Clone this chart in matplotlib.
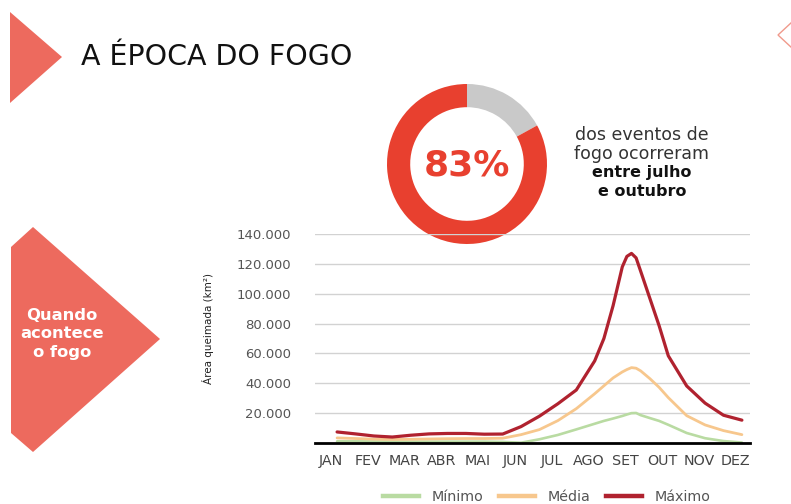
import matplotlib
matplotlib.use("Agg")
import matplotlib.pyplot as plt
from matplotlib.patches import Polygon
from matplotlib.lines import Line2D
from matplotlib.ticker import FuncFormatter

# ---------------- data ----------------
month_labels = ["JAN", "FEV", "MAR", "ABR", "MAI", "JUN", "JUL", "AGO", "SET", "OUT", "NOV", "DEZ"]
# position along the year (0 = JAN, 11 = DEZ) at which values were read
x_pos = [0, 0.5, 1, 1.5, 2, 2.5, 3, 3.5, 4, 4.5, 5, 5.5, 6, 6.5, 7, 7.25, 7.5,
         7.75, 7.875, 8, 8.125, 8.25, 8.5, 8.75, 9, 9.5, 10, 10.5, 11]
maximo = [7400, 6100, 4700, 4000, 5200, 6100, 6400, 6400, 5900, 6000, 11000, 18000,
          26300, 35500, 55000, 70000, 92000, 118000, 125000, 127000, 124000, 115000,
          96800, 78600, 58400, 38200, 26700, 18600, 15300]
media = [3400, 3000, 2600, 2400, 2500, 2700, 2900, 3000, 3000, 3200, 5600, 9000,
         15000, 23000, 33000, 38300, 43600, 47600, 49200, 50500, 50100, 48300,
         43100, 37300, 30400, 18300, 12100, 8300, 5600]
minimo = [1100, 1100, 1000, 900, 900, 900, 900, 900, 900, 700, 200, 2500,
          5400, 9100, 12900, 14800, 16400, 18100, 19100, 20000, 20100, 18650,
          16700, 14800, 12200, 6700, 3200, 1300, 300]
y_ticks = [20000, 40000, 60000, 80000, 100000, 120000, 140000]
donut_values = [17, 83]          # outros meses, julho-outubro
donut_label = "83%"
series_names = ["Mínimo", "Média", "Máximo"]

# ---------------- style ----------------
W, H = 791, 504
RED_SHAPE = "#ed6a5e"
DONUT_RED = "#e8402f"
DONUT_GRAY = "#c9c9c9"
C_MAX, C_MED, C_MIN = "#b0222f", "#f7c78d", "#b9dba2"

plt.rcParams["font.family"] = ["DejaVu Sans"]
fig = plt.figure(figsize=(W / 100, H / 100), dpi=100)
fig.patch.set_facecolor("white")

# background layer in pixel coordinates
bg = fig.add_axes([0, 0, 1, 1])
bg.set_xlim(0, W)
bg.set_ylim(H, 0)
bg.axis("off")

bg.add_patch(Polygon([(10, 12), (62, 57), (10, 103)], closed=True,
                     facecolor=RED_SHAPE, lw=0))
bg.add_patch(Polygon([(11, 247), (33, 227), (160, 339), (33, 452), (11, 433)],
                     closed=True, facecolor=RED_SHAPE, lw=0))
bg.add_patch(Polygon([(792, 22), (778, 35), (792, 48)], closed=False,
                     facecolor="none", edgecolor="#f09a8c", lw=1))

bg.text(81, 65, "A ÉPOCA DO FOGO", fontsize=20.5, color="#111111",
        ha="left", va="baseline")

bg.text(62, 334, "Quando\nacontece\no fogo", fontsize=11.8, fontweight="bold",
        color="white", ha="center", va="center", linespacing=1.25)

bg.text(208, 328, "Área queimada (km²)", fontsize=7.5, color="#222222",
        rotation=90, ha="center", va="center")

txt_lines = [("dos eventos de", "normal", "#333333", 135, 12.5),
             ("fogo ocorreram", "normal", "#333333", 154, 12.5),
             ("entre julho", "bold", "#111111", 173, 11.5),
             ("e outubro", "bold", "#111111", 192, 11.5)]
for s, w, c, y, fs in txt_lines:
    bg.text(642, y, s, fontsize=fs, fontweight=w, color=c, ha="center", va="center")

# donut
cx, cy, r = 467, 164, 80
dax = fig.add_axes([(cx - r) / W, (H - cy - r) / H, 2 * r / W, 2 * r / H])
dax.pie(donut_values, colors=[DONUT_GRAY, DONUT_RED], startangle=90,
        counterclock=False, radius=1, wedgeprops=dict(width=0.29, linewidth=0))
dax.set_xlim(-1, 1)
dax.set_ylim(-1, 1)
dax.set_aspect("equal")
dax.axis("off")
dax.text(0, -0.02, donut_label, fontsize=26, fontweight="bold", color=DONUT_RED,
         ha="center", va="center")

# line chart
ax = fig.add_axes([315 / W, 61 / H, 435 / W, 209 / H])
ax.set_facecolor("none")
ax.plot(x_pos, minimo, color=C_MIN, lw=1.9, solid_joinstyle="round", solid_capstyle="round", zorder=3)
ax.plot(x_pos, media, color=C_MED, lw=2.0, solid_joinstyle="round", solid_capstyle="round", zorder=3)
ax.plot(x_pos, maximo, color=C_MAX, lw=2.3, solid_joinstyle="round", solid_capstyle="round", zorder=4)

ax.set_xlim(-0.6, 11.22)
ax.set_ylim(0, 140000)
ax.set_yticks(y_ticks)
ax.yaxis.set_major_formatter(FuncFormatter(lambda v, p: f"{int(v):,}".replace(",", ".")))
ax.set_xticks([i - 0.17 for i in range(12)])
ax.set_xticklabels(month_labels)
ax.tick_params(axis="y", length=0, pad=17, labelsize=9.5, labelcolor="#555555")
ax.tick_params(axis="x", length=0, pad=8, labelsize=10.3, labelcolor="#444444")
ax.yaxis.grid(True, color="#d2d2d2", lw=1)
ax.set_axisbelow(True)
for sp in ["top", "right", "left"]:
    ax.spines[sp].set_visible(False)
ax.spines["bottom"].set_color("black")
ax.spines["bottom"].set_linewidth(2)
ax.spines["bottom"].set_zorder(5)

handles = [Line2D([], [], color=C_MIN, lw=3.2),
           Line2D([], [], color=C_MED, lw=3.2),
           Line2D([], [], color=C_MAX, lw=3.2)]
fig.legend(handles, series_names, loc="center", bbox_to_anchor=(547 / W, (H - 497) / H),
           ncol=3, frameon=False, fontsize=10.3, labelcolor="#555555",
           handlelength=2.5, handletextpad=0.9, columnspacing=1.1, borderaxespad=0)

fig.savefig("out.png", dpi=100, facecolor="white")
